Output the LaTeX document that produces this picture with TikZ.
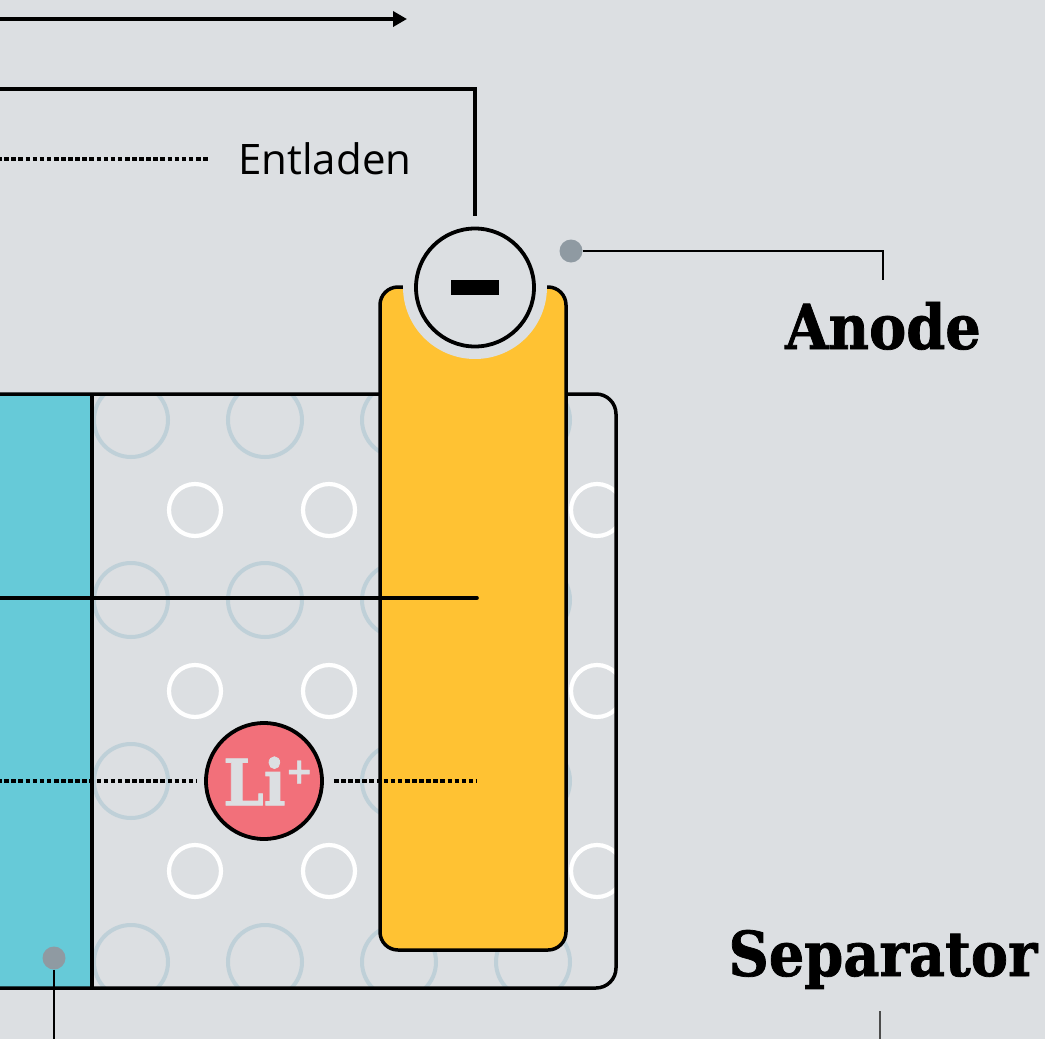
\documentclass[tikz,border=0pt]{standalone}
\usepackage{fontspec}
\setsansfont{Open Sans}
\newfontfamily\slabfont[FakeStretch=0.9, FakeBold=1.2]{DejaVu Serif}
\usetikzlibrary{arrows.meta,positioning}

\definecolor{bggray}{HTML}{DCDFE2}
\definecolor{cathodecyan}{HTML}{66CAD8}
\definecolor{anodeyellow}{HTML}{FFC233}
\definecolor{porecol}{HTML}{BFD0D8}
\definecolor{ionred}{HTML}{F2707A}
\definecolor{pingray}{HTML}{8F9AA2}

\begin{document}
\begin{tikzpicture}[x=0.5pt, y=-0.5pt,
    wire/.style={line width=1.8pt},
    dots/.style={line width=2.3pt, dash pattern=on 2.3pt off 1.25pt},
    lead/.style={line width=0.65pt},
    pin/.style={circle, fill=pingray, minimum size=11.5pt, inner sep=0pt},
    bubble/.style={draw=porecol, line width=2pt},
    pore/.style={draw=white, line width=2.1pt},
    heading/.style={font=\slabfont\bfseries\fontsize{31pt}{31pt}\selectfont, inner sep=0pt}]
    \useasboundingbox (0,0) rectangle (1045,1039);
    \fill[bggray] (0,0) rectangle (1045,1039);
    \clip (0,0) rectangle (1045,1039);

    % Cathode strip
    \fill[cathodecyan] (-40,394) rectangle (92,988);

    % Separator pores
    \begin{scope}
        \clip (92,394) rectangle (616,988);
        \foreach \x in {131,265,399,533}
            \foreach \y in {420,600,781,962}
                \draw[bubble] (\x,\y) circle[radius=18.5pt];
        \foreach \x in {195,329,463,597}
            \foreach \y in {510,691,871}
                \draw[pore] (\x,\y) circle[radius=13pt];
    \end{scope}
    \draw[line width=1.75pt, rounded corners=10pt] (-40,394) rectangle (616,988);
    \draw[line width=1.75pt] (92,394) -- (92,988);

    % Anode
    \draw[line width=1.75pt, fill=anodeyellow, rounded corners=9pt] (380,287) rectangle (566,950);
    \fill[bggray] (475,287) circle[radius=36pt];
    \node[circle, draw, fill=bggray, line width=1.9pt, minimum size=59pt, inner sep=0pt] (neg) at (475,287.5)
        {\rule[-3.9pt]{24pt}{7.8pt}};

    % Outer circuit
    \coordinate (arrl) at (-10,19);
    \coordinate (arrr) at (407,19);
    \draw[wire, -{Triangle[length=7pt,width=7.5pt]}] (arrl) -- (arrr);
    \coordinate (wirel) at (-10,89);
    \draw[wire, shorten >=5.5pt] (wirel) -| (neg.north);

    % Legend
    \node[font=\sffamily\fontsize{21pt}{21pt}\selectfont, anchor=base west, inner sep=0pt] (ent) at (238,174) {Entladen};
    \coordinate (legl) at (-10,159);
    \draw[dots, shorten >=14.5pt] (legl) -- (legl -| ent.west);

    % Ion paths
    \coordinate (solidl) at (-10,598);
    \coordinate (solidr) at (477,598);
    \draw[wire, line cap=round] (solidl) -- (solidr);
    \node[circle, draw, fill=ionred, line width=1.9pt, minimum size=58pt, inner sep=0pt,
        font=\slabfont\bfseries\fontsize{32pt}{32pt}\selectfont, text=bggray] (li) at (264,781)
        {\hspace*{4pt}Li\raisebox{11pt}{\fontsize{18pt}{18pt}\selectfont+}};
    \coordinate (dotl) at (-10,781);
    \coordinate (dotr) at (476,781);
    \draw[dots, shorten >=4pt] (dotl) -- (li);
    \draw[dots, shorten <=5pt] (li) -- (dotr);

    % Labels
    \node[pin] (anodepin) at (571,251) {};
    \node[heading, anchor=base] (anode) at (883,349) {Anode};
    \draw[lead, shorten >=10.5pt] (anodepin) -| (anode.north);

    \node[heading, anchor=base] (sep) at (883,976) {Separator};
    \coordinate (sepend) at (880,1045);
    \draw[lead, draw=black!70, shorten <=11pt] (sep.south -| sepend) -- (sepend);

    \node[pin] (cathodepin) at (54,958) {};
    \coordinate (cathodeend) at (54,1045);
    \draw[lead] (cathodepin) -- (cathodeend);
\end{tikzpicture}
\end{document}
